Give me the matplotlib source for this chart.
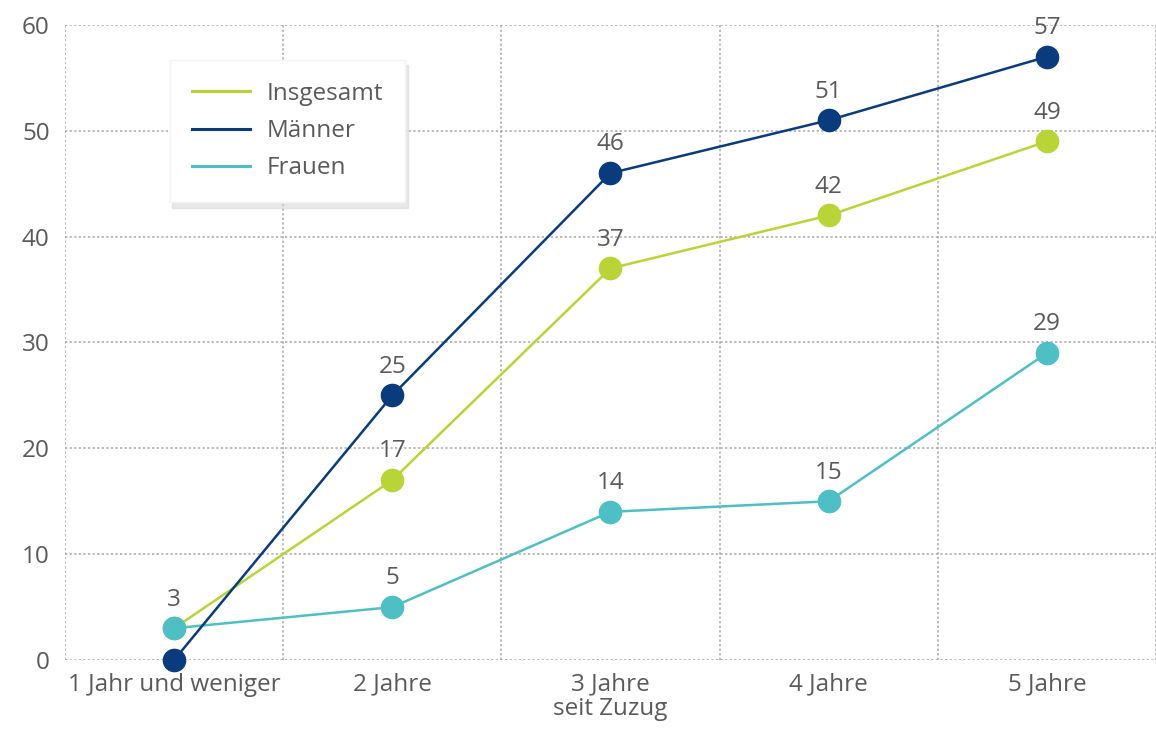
import matplotlib

matplotlib.use("Agg")

import matplotlib.pyplot as plt
import numpy as np

categories = ["1 Jahr und weniger", "2 Jahre", "3 Jahre", "4 Jahre", "5 Jahre"]
insgesamt = [3, 17, 37, 42, 49]
maenner = [0, 25, 46, 51, 57]
frauen = [3, 5, 14, 15, 29]
# which points carry a value label (the first point is shared / unlabeled)
show_label = {
    "Insgesamt": [True, True, True, True, True],
    "Männer": [False, True, True, True, True],
    "Frauen": [False, True, True, True, True],
}

colors = {"Insgesamt": "#b9d436", "Männer": "#0a3b7c", "Frauen": "#4fbfc6"}
text_color = "#5a5a5a"

plt.rcParams["font.family"] = ["Open Sans", "DejaVu Sans"]

fig = plt.figure(figsize=(11.56, 7.34), dpi=100)
ax = fig.add_axes([0.0562, 0.1008, 0.9438, 0.8652])

x = np.arange(len(categories))
series = [("Insgesamt", insgesamt), ("Männer", maenner), ("Frauen", frauen)]
zorders = {"Insgesamt": 3, "Frauen": 4, "Männer": 5}
for name, values in series:
    ax.plot(x, values, color=colors[name], lw=1.8, marker="o", markersize=16,
            label=name, zorder=zorders[name], clip_on=False)
    for xi, v, show in zip(x, values, show_label[name]):
        if show:
            ax.annotate(str(v), (xi, v), xytext=(0, 12), textcoords="offset points",
                        ha="center", va="bottom", fontsize=17.5, color=text_color, zorder=6)

ax.set_xlim(-0.5, 4.46)
ax.set_ylim(0, 60)
ax.set_yticks(np.arange(0, 61, 10))
ax.set_xticks(x)
ax.set_xticklabels(categories)
ax.set_xticks(np.arange(-0.5, 4.6, 1), minor=True)
ax.tick_params(axis="both", which="both", length=0, labelsize=17.5, colors=text_color)
ax.tick_params(axis="x", pad=9)
ax.tick_params(axis="y", pad=11)
ax.grid(axis="y", which="major", color="#a8a8a8", linestyle=(0, (1.5, 1.5)), lw=1.1)
ax.grid(axis="x", which="minor", color="#a8a8a8", linestyle=(0, (1.5, 1.5)), lw=1.1)
ax.grid(axis="x", which="major", visible=False)
ax.set_axisbelow(True)
for spine in ax.spines.values():
    spine.set_visible(False)
ax.set_xlabel("seit Zuzug", fontsize=17.5, color=text_color, labelpad=0)

leg = ax.legend(loc="upper left", bbox_to_anchor=(0.096, 0.945), borderaxespad=0,
                fontsize=17.5, frameon=True, framealpha=1.0, fancybox=False,
                shadow={"color": "#d6d6d6", "alpha": 0.55, "ox": 2, "oy": -4},
                borderpad=0.9, handlelength=2.4, handletextpad=0.7,
                labelspacing=0.55, edgecolor="#f4f4f4")
for t in leg.get_texts():
    t.set_color(text_color)
for h in leg.legend_handles:
    h.set_marker("")
    h.set_linewidth(2.2)

fig.savefig("out.png", dpi=100)
plt.close(fig)
